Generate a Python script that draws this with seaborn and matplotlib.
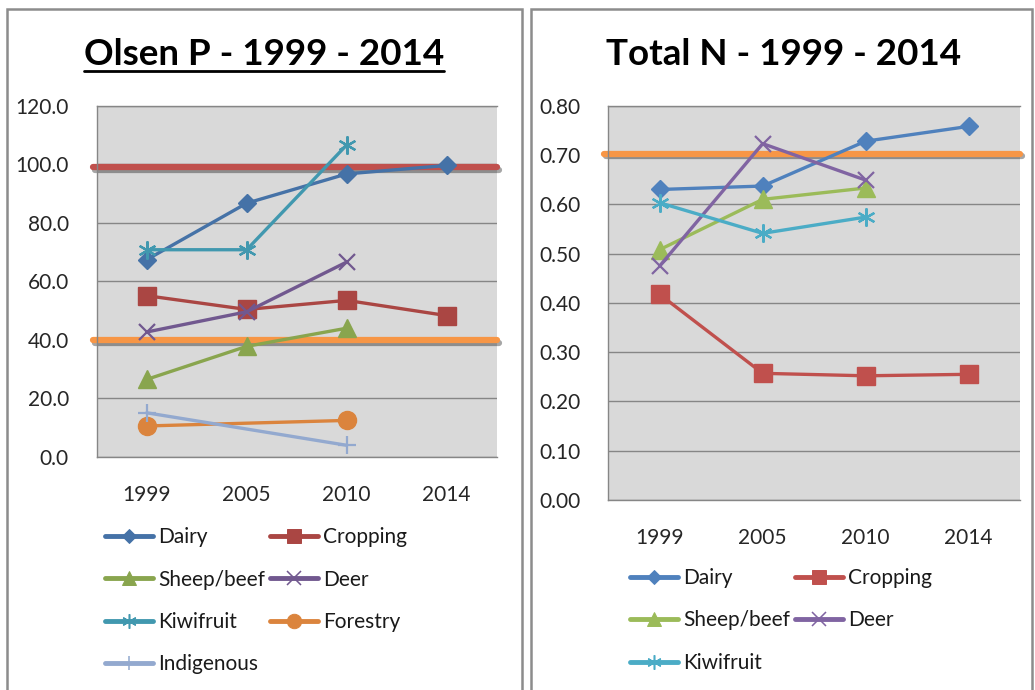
import numpy as np
import pandas as pd
import matplotlib
matplotlib.use('Agg')
import matplotlib.pyplot as plt
import matplotlib.patheffects as pe
from matplotlib.lines import Line2D
from matplotlib.patches import Rectangle
import seaborn as sns

years = ['1999', '2005', '2010', '2014']

# Olsen P (left chart)
olsen_dairy = [67.4, 86.7, 96.7, 99.6]
olsen_cropping = [55.1, 50.4, 53.5, 48.3]
olsen_sheepbeef = [26.5, 37.8, 44.0, None]
olsen_deer = [42.7, 49.6, 66.6, None]
olsen_kiwifruit = [70.8, 70.8, 106.6, None]
olsen_forestry = [10.6, None, 12.5, None]
olsen_indigenous = [15.1, None, 4.0, None]
olsen_upper = 99.0
olsen_lower = 39.8

# Total N (right chart)
totn_dairy = [0.630, 0.637, 0.728, 0.758]
totn_cropping = [0.417, 0.257, 0.252, 0.255]
totn_sheepbeef = [0.508, 0.610, 0.633, None]
totn_deer = [0.475, 0.723, 0.649, None]
totn_kiwifruit = [0.603, 0.541, 0.574, None]
totn_target = 0.703

asterisk = (6, 2, 0)
# name: (marker, size, edge width)
marker_style = {
    'Dairy': ('D', 9.5, 1),
    'Cropping': ('s', 12.5, 1),
    'Sheep/beef': ('^', 13, 1),
    'Deer': ('x', 12, 1.6),
    'Kiwifruit': (asterisk, 13, 1.6),
    'Forestry': ('o', 13, 1),
    'Indigenous': ('+', 13, 1.6),
}

left_colors = {
    'Dairy': '#4572A7', 'Cropping': '#AA4643', 'Sheep/beef': '#89A54E',
    'Deer': '#71588F', 'Kiwifruit': '#4198AF', 'Forestry': '#DB843D',
    'Indigenous': '#93A9CF',
}
right_colors = {
    'Dairy': '#4F81BD', 'Cropping': '#C0504D', 'Sheep/beef': '#9BBB59',
    'Deer': '#8064A2', 'Kiwifruit': '#4BACC6',
}

sns.set_style('white')
plt.rcParams['font.family'] = ['Lato', 'DejaVu Sans']
plt.rcParams['text.color'] = '#1a1a1a'

fig = plt.figure(figsize=(10.35, 6.9), dpi=100)

W, H = 1035.0, 690.0


def fx(px):
    return px / W


def fy(py):
    return 1 - py / H


def draw_series(ax, series, colors):
    for name, vals in series:
        df = pd.DataFrame({'x': range(len(years)), 'y': vals}).dropna()
        m, ms, mew = marker_style[name]
        c = colors[name]
        sns.lineplot(data=df, x='x', y='y', ax=ax, color=c, linewidth=2.4,
                     marker=m, markersize=ms, markeredgecolor=c,
                     markerfacecolor=c, markeredgewidth=mew, label=name,
                     legend=False)


def style_axes(ax, ymax, step, fmt):
    ax.set_facecolor('#D9D9D9')
    ax.set_xlim(-0.5, len(years) - 0.5)
    ax.set_ylim(0, ymax)
    ax.set_yticks(np.arange(0, ymax + step / 2, step))
    ax.set_yticklabels([fmt.format(v) for v in np.arange(0, ymax + step / 2, step)])
    ax.set_xticks(range(len(years)))
    ax.set_xticklabels(years)
    ax.set_xticks(np.arange(-0.5, len(years)), minor=True)
    ax.tick_params(axis='x', which='major', length=0, pad=20, labelsize=15)
    ax.tick_params(axis='x', which='minor', length=7, color='#868686', width=1)
    ax.tick_params(axis='y', length=8, color='#868686', width=1, pad=12, labelsize=15)
    ax.grid(axis='y', color='#868686', linewidth=1)
    ax.set_axisbelow(True)
    for s in ['left', 'bottom', 'top']:
        ax.spines[s].set_color('#868686')
        ax.spines[s].set_linewidth(1)
    ax.spines['right'].set_visible(False)
    ax.set_xlabel('')
    ax.set_ylabel('')


def ref_line(ax, y, color):
    ax.axhline(y, color=color, linewidth=4.5, zorder=1.5, xmin=-0.01, xmax=1.0,
               clip_on=False,
               path_effects=[pe.SimpleLineShadow(offset=(1.5, -2), alpha=0.35),
                             pe.Normal()])


def add_legend(ax, names, x_px, y_px):
    handles = []
    for name in names:
        m, ms, mew = marker_style[name]
        c = ax_colors[ax][name]
        handles.append(Line2D([0], [0], color=c, linewidth=3.5, marker=m,
                              markersize=ms * 0.8, markeredgecolor=c,
                              markerfacecolor=c, markeredgewidth=mew * 0.7))
    leg = ax.legend(handles, names, loc='upper left',
                    bbox_to_anchor=(fx(x_px), fy(y_px)),
                    bbox_transform=fig.transFigure, frameon=False,
                    fontsize=15, handlelength=2.3, handletextpad=0.25,
                    labelspacing=1.08, borderpad=0, borderaxespad=0,
                    numpoints=1)
    return leg


# left chart
ax1 = fig.add_axes([fx(96.7), fy(457), fx(400), 351.3 / H])
style_axes(ax1, 120, 20, '{:.1f}')
ref_line(ax1, olsen_upper, '#C0504D')
ref_line(ax1, olsen_lower, '#F79646')
draw_series(ax1, [('Dairy', olsen_dairy), ('Cropping', olsen_cropping),
                  ('Sheep/beef', olsen_sheepbeef), ('Deer', olsen_deer),
                  ('Kiwifruit', olsen_kiwifruit), ('Forestry', olsen_forestry),
                  ('Indigenous', olsen_indigenous)], left_colors)
style_axes(ax1, 120, 20, '{:.1f}')

# right chart
ax2 = fig.add_axes([fx(608.3), fy(500), fx(411.7), 394.3 / H])
style_axes(ax2, 0.8, 0.1, '{:.2f}')
ref_line(ax2, totn_target, '#F79646')
draw_series(ax2, [('Dairy', totn_dairy), ('Cropping', totn_cropping),
                  ('Sheep/beef', totn_sheepbeef), ('Deer', totn_deer),
                  ('Kiwifruit', totn_kiwifruit)], right_colors)
style_axes(ax2, 0.8, 0.1, '{:.2f}')

ax_colors = {ax1: left_colors, ax2: right_colors}

l1 = add_legend(ax1, ['Dairy', 'Sheep/beef', 'Kiwifruit', 'Indigenous'], 105, 527)
ax1.add_artist(l1)
add_legend(ax1, ['Cropping', 'Deer', 'Forestry'], 270, 527)

l2 = add_legend(ax2, ['Dairy', 'Sheep/beef', 'Kiwifruit'], 630, 568)
ax2.add_artist(l2)
add_legend(ax2, ['Cropping', 'Deer'], 795, 568)

# titles
t1 = fig.text(fx(264), fy(65), 'Olsen P - 1999 - 2014', ha='center', va='baseline',
              fontsize=26.5, fontweight='bold', color='black')
t2 = fig.text(fx(784), fy(65), 'Total N - 1999 - 2014', ha='center', va='baseline',
              fontsize=26.5, fontweight='bold', color='black')

# underline for the left title
fig.canvas.draw()
bb = t1.get_window_extent()
fig.add_artist(Line2D([bb.x0 / W, bb.x1 / W], [fy(71), fy(71)], color='black',
                      linewidth=2, transform=fig.transFigure))

# panel borders
fig.add_artist(Rectangle((fx(7), -0.05), fx(515), 1.05 - 9 / H, fill=False,
                         edgecolor='#8C8C8C', linewidth=1.8, transform=fig.transFigure))
fig.add_artist(Rectangle((fx(531), -0.05), fx(501), 1.05 - 9 / H, fill=False,
                         edgecolor='#8C8C8C', linewidth=1.8, transform=fig.transFigure))

plt.savefig('out.png', dpi=100)
